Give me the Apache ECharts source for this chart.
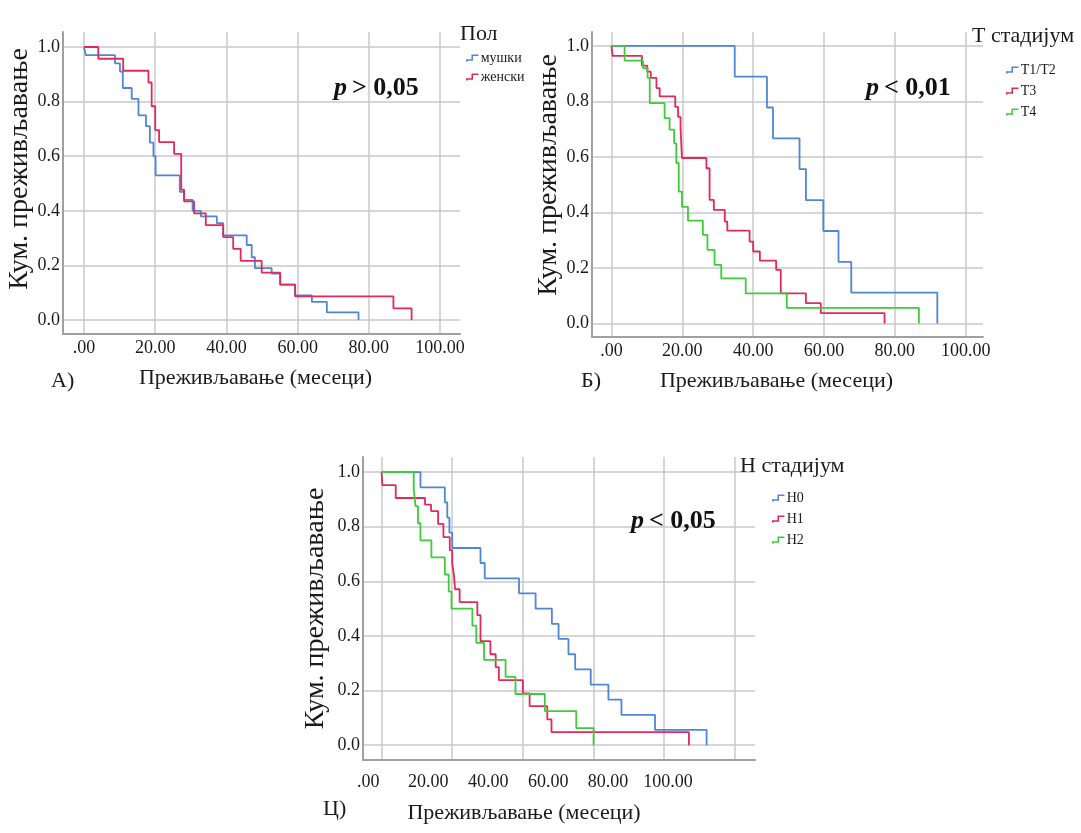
<!DOCTYPE html>
<html>
<head>
<meta charset="utf-8">
<script src="https://cdn.jsdelivr.net/npm/echarts@6/dist/echarts.min.js"></script>
<style>
html,body{margin:0;padding:0;background:#fff;}
#chart{width:1081px;height:833px;}
</style>
</head>
<body>
<div id="chart"></div>
<script>
// ---------- DATA ----------
const xTickValues = [0, 20, 40, 60, 80, 100];
const xTickLabels = ['.00', '20.00', '40.00', '60.00', '80.00', '100.00'];
const yTickValues = [0, 0.2, 0.4, 0.6, 0.8, 1.0];
const yTickLabels = ['0.0', '0.2', '0.4', '0.6', '0.8', '1.0'];

// Panel A: sex
const maleTime = [0, 0.5, 8.7, 10.1, 10.9, 13.4, 15.3, 17.4, 18.5, 19.5, 20.1, 26.9, 28.1, 30.5, 32.8, 37.3, 39.1, 45.7, 47.1, 48.0, 52.7, 55.1, 59.3, 64.0, 68.2, 77.1];
const maleSurv = [1.0, 0.97, 0.94, 0.91, 0.85, 0.81, 0.75, 0.71, 0.65, 0.60, 0.53, 0.47, 0.44, 0.40, 0.38, 0.355, 0.31, 0.275, 0.23, 0.19, 0.17, 0.13, 0.09, 0.067, 0.028, 0.0];
const femaleTime = [0, 4.0, 11.0, 18.1, 19.0, 20.0, 21.1, 25.3, 27.3, 28.1, 30.9, 34.2, 39.1, 41.9, 44.0, 49.9, 55.1, 59.3, 86.9, 92.0];
const femaleSurv = [1.0, 0.957, 0.913, 0.87, 0.783, 0.696, 0.652, 0.609, 0.478, 0.435, 0.391, 0.348, 0.304, 0.261, 0.217, 0.174, 0.13, 0.087, 0.043, 0.0];

// Panel B: T stage
const t12Time = [0, 34.8, 43.9, 45.6, 53.1, 54.9, 59.8, 64.1, 67.7, 92.0];
const t12Surv = [1, 0.889, 0.778, 0.667, 0.556, 0.444, 0.333, 0.222, 0.111, 0];
const t3Time = [0, 0.3, 8.6, 10.1, 11.1, 12.7, 13.6, 18.0, 18.8, 19.5, 19.9, 26.8, 27.7, 28.9, 32.0, 32.7, 39.0, 40.0, 41.9, 46.5, 47.8, 54.9, 59.1, 77.1];
const t3Surv = [1, 0.964, 0.929, 0.907, 0.885, 0.848, 0.818, 0.78, 0.744, 0.704, 0.596, 0.559, 0.445, 0.409, 0.367, 0.334, 0.295, 0.259, 0.226, 0.193, 0.108, 0.073, 0.037, 0];
const t4Time = [0, 3.7, 8.9, 10.2, 10.8, 15.0, 16.4, 17.7, 18.3, 19.0, 19.9, 21.6, 25.8, 27.1, 29.1, 31.0, 37.9, 49.5, 86.8];
const t4Surv = [1, 0.947, 0.92, 0.885, 0.794, 0.74, 0.698, 0.649, 0.578, 0.475, 0.42, 0.37, 0.319, 0.265, 0.211, 0.162, 0.108, 0.056, 0];

// Panel C: N stage
const n0Time = [0, 11.0, 17.9, 18.6, 19.2, 20.0, 28.0, 29.2, 38.9, 43.6, 48.2, 50.1, 52.9, 54.8, 59.2, 64.2, 67.9, 77.4, 92.0];
const n0Surv = [1, 0.944, 0.889, 0.833, 0.778, 0.722, 0.667, 0.611, 0.556, 0.5, 0.444, 0.389, 0.333, 0.278, 0.222, 0.167, 0.111, 0.056, 0];
const n1Time = [0, 0.2, 4.0, 12.3, 14.0, 16.0, 17.5, 19.3, 20.0, 20.5, 20.8, 22.1, 27.1, 28.0, 30.8, 32.3, 33.2, 40.0, 41.9, 46.9, 48.1, 87.0];
const n1Surv = [1, 0.952, 0.905, 0.881, 0.857, 0.81, 0.762, 0.714, 0.667, 0.619, 0.571, 0.524, 0.476, 0.381, 0.333, 0.286, 0.238, 0.19, 0.143, 0.095, 0.048, 0];
const n2Time = [0, 9.1, 9.6, 10.3, 11.0, 14.1, 17.9, 19.0, 19.8, 25.7, 26.8, 29.0, 35.1, 37.9, 46.2, 55.1, 60.0];
const n2Surv = [1, 0.9375, 0.875, 0.8125, 0.75, 0.6875, 0.625, 0.5625, 0.5, 0.4375, 0.375, 0.3125, 0.25, 0.1875, 0.125, 0.0625, 0];

const yName = 'Кум. преживљавање';
const xName = 'Преживљавање (месеци)';

// ---------- STYLE ----------
const FONT = 'Liberation Serif';
const BLUE = '#4f86d6', RED = '#e2285f', GREEN = '#3ccc3c';
const GRIDC = '#c9c9c9', AXISC = '#a0a0a0', TXT = '#1a1a1a';

function pairs(t, s) { return t.map((v, i) => [v, s[i]]); }
function findIdx(arr, v) { for (let i = 0; i < arr.length; i++) if (Math.abs(arr[i] - v) < 1e-6) return i; return -1; }

function xAxisCfg(gi, min, max, opts) {
  opts = opts || {};
  return {
    type: 'value', gridIndex: gi, min: min, max: max, position: 'bottom',
    axisLine: { show: opts.showLine !== false, onZero: false, lineStyle: { color: AXISC, width: 2 } },
    axisTick: { show: false, customValues: xTickValues },
    axisLabel: {
      show: opts.showLabel !== false, customValues: xTickValues, margin: opts.margin || 5,
      fontFamily: FONT, fontSize: 18, color: TXT,
      formatter: v => xTickLabels[findIdx(xTickValues, v)]
    },
    splitLine: { show: opts.showSplit !== false, lineStyle: { color: GRIDC, width: 1.5 } },
    name: opts.name || '', nameLocation: 'middle', nameGap: opts.nameGap || 30,
    nameTextStyle: { fontFamily: FONT, fontSize: 22, color: TXT, padding: opts.namePad || 0 }
  };
}
function yAxisCfg(gi, min, max, gap, pad) {
  return {
    type: 'value', gridIndex: gi, min: min, max: max,
    axisLine: { show: true, onZero: false, lineStyle: { color: AXISC, width: 2 } },
    axisTick: { show: false, customValues: yTickValues },
    axisLabel: {
      customValues: yTickValues, margin: 3, fontFamily: FONT, fontSize: 18, color: TXT,
      formatter: v => yTickLabels[findIdx(yTickValues, v)]
    },
    splitLine: { show: true, lineStyle: { color: GRIDC, width: 1.5 } },
    name: yName, nameLocation: 'middle', nameGap: gap, nameRotate: 90,
    nameTextStyle: { fontFamily: FONT, fontSize: 28, color: TXT, padding: pad || 0 }
  };
}
function line(name, xi, yi, t, s, color) {
  return {
    name: name, type: 'line', xAxisIndex: xi, yAxisIndex: yi, step: 'end',
    data: pairs(t, s), showSymbol: false, symbol: 'none',
    lineStyle: { color: color, width: 1.8 }, itemStyle: { color: color },
    animation: false
  };
}
const stepIcon = 'path://M0,9 L0,6 L7,6 L7,0 L16,0 L16,2 L9,2 L9,8 L2,8 L2,9 Z';
function legendCfg(names, left, top, gap) {
  return {
    data: names, orient: 'vertical', left: left, top: top, itemGap: gap,
    icon: stepIcon, itemWidth: 13, itemHeight: 7,
    textStyle: { fontFamily: FONT, fontSize: 14, color: TXT, padding: [0, 0, 4, -3] },
    selectedMode: false
  };
}
function txt(text, left, top, size, extra) {
  return Object.assign({ text: text, left: left, top: top,
    textStyle: { fontFamily: FONT, fontSize: size, fontWeight: 'normal', color: TXT } }, extra || {});
}
function pval(op, left, top) {
  return {
    text: '{i|p} {b|' + op + '}', left: left, top: top,
    textStyle: {
      rich: {
        i: { fontFamily: FONT, fontSize: 26, fontStyle: 'italic', fontWeight: 'bold', color: '#111' },
        b: { fontFamily: FONT, fontSize: 26, fontWeight: 'bold', color: '#111' }
      }
    }
  };
}

const option = {
  backgroundColor: '#fff',
  animation: false,
  grid: [
    { left: 63, top: 32, width: 397, height: 302 },
    { left: 592, top: 32, width: 391, height: 305 },
    { left: 363, top: 457, width: 392, height: 303 }
  ],
  xAxis: [
    xAxisCfg(0, -5.9, 105.6, { name: xName, nameGap: 33, namePad: [0, 12, 0, 0] }),
    xAxisCfg(1, -5.5, 104.9, { name: xName, nameGap: 33, namePad: [0, 22, 0, 0] }),
    xAxisCfg(2, -5.26, 105.7, { showLabel: false }),
    xAxisCfg(2, -1.77, 129, { showLine: false, showSplit: false, margin: 13, name: xName, nameGap: 42, namePad: [0, 70, 0, 0] })
  ],
  yAxis: [
    yAxisCfg(0, -0.051, 1.055, 28, [0, 0, 0, 28]),
    yAxisCfg(1, -0.049, 1.05, 29, [0, 0, 0, 19]),
    yAxisCfg(2, -0.054, 1.055, 33, 0)
  ],
  legend: [
    legendCfg(['мушки', 'женски'], 461, 46, 5),
    legendCfg(['T1/T2', 'T3', 'T4'], 1001, 58, 7),
    legendCfg(['Н0', 'Н1', 'Н2'], 767, 486, 7)
  ],
  title: [
    txt('Пол', 455, 18, 22),
    txt('Т стадијум', 967, 20, 22),
    txt('Н стадијум', 735, 450, 22),
    txt('А)', 46, 365, 22),
    txt('Б)', 576, 365, 22),
    txt('Ц)', 318, 793, 22),
    pval('> 0,05', 329, 70),
    pval('< 0,01', 861, 70),
    pval('< 0,05', 626, 503)
  ],
  series: [
    line('мушки', 0, 0, maleTime, maleSurv, BLUE),
    line('женски', 0, 0, femaleTime, femaleSurv, RED),
    line('T1/T2', 1, 1, t12Time, t12Surv, BLUE),
    line('T3', 1, 1, t3Time, t3Surv, RED),
    line('T4', 1, 1, t4Time, t4Surv, GREEN),
    line('Н0', 2, 2, n0Time, n0Surv, BLUE),
    line('Н1', 2, 2, n1Time, n1Surv, RED),
    line('Н2', 2, 2, n2Time, n2Surv, GREEN)
  ]
};

const chart = echarts.init(document.getElementById('chart'), null, { renderer: 'canvas' });
chart.setOption(option);
</script>
</body>
</html>
